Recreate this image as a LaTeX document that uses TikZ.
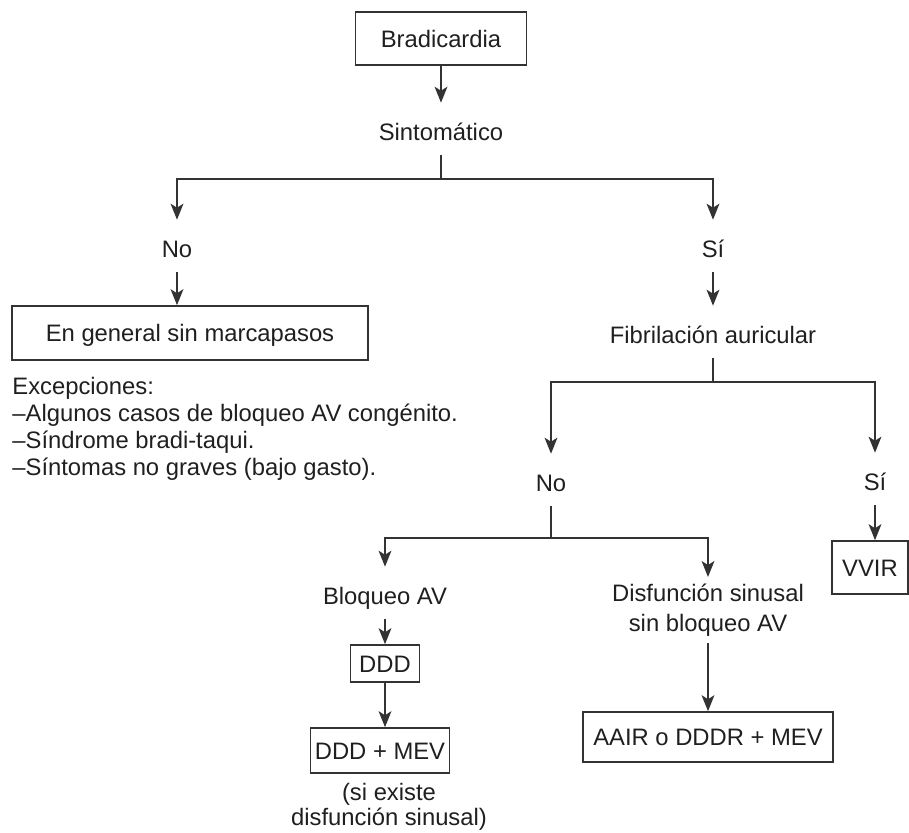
\documentclass[tikz,border=0pt]{standalone}
\usepackage{fontspec}
\setmainfont{Liberation Sans}
\usetikzlibrary{arrows.meta,positioning}
\definecolor{inkgrey}{gray}{0.12}
\definecolor{linegrey}{gray}{0.2}
\newcommand{\flowfont}{\fontsize{11.9}{13.5}\selectfont}

\begin{document}
\begin{tikzpicture}[
    x=0.5pt, y=-0.5pt,
    every node/.style={font=\flowfont, text=inkgrey},
    box/.style={rectangle, draw=linegrey, line width=0.8pt, inner sep=0pt,
        text height=8.6pt, text depth=0pt},
    lbl/.style={inner sep=0pt, text height=18.7pt, text depth=7.2pt},
    link/.style={draw=linegrey, line width=0.8pt},
    >={Stealth[length=8pt, width=6.4pt, inset=2pt]}
]
\useasboundingbox (0,0) rectangle (909,832);

% first question
\node[box, minimum width=85.5pt, minimum height=26.5pt] (brad) at (441,38.5) {Bradicardia};
\node[lbl] (sint) at (441,129) {Sintomático};
\coordinate (j1) at (441,179);
\node[lbl] (no1) at (177,246) {No};
\node[lbl] (si1) at (713,246) {Sí};

% no symptoms
\node[box, minimum width=178pt, minimum height=27pt] (gen) at (190,333) {En general sin marcapasos};
\node[anchor=north west, inner sep=0pt, align=left] (exc) at (12,376.5)
    {Excepciones:\\–Algunos casos de bloqueo AV congénito.\\–Síndrome bradi-taqui.\\–Síntomas no graves (bajo gasto).};

% symptoms: atrial fibrillation?
\node[lbl] (fib) at (713,332) {Fibrilación auricular};
\coordinate (j2) at (713,382);
\node[lbl] (no2) at (551,480) {No};
\node[lbl] (si2) at (875,479) {Sí};
\node[box, minimum width=38pt, minimum height=26.5pt] (vvir) at (870,567.5) {VVIR};

% no fibrillation
\coordinate (j3) at (551,538);
\node[lbl] (bloq) at (385,593) {Bloqueo AV};
\node[anchor=north, inner sep=0pt, outer ysep=3.5pt, align=center] (disf) at (708,577)
    {Disfunción sinusal\\[1.5pt]sin bloqueo AV};
\node[box, minimum width=34.5pt, minimum height=18.5pt] (ddd) at (385,663.5) {DDD};
\node[box, minimum width=69.5pt, minimum height=22.5pt] (dddmev) at (380,750.5) {DDD + MEV};
\node[anchor=north, inner sep=0pt, align=center, font=\fontsize{11.9}{12.5}\selectfont] (nota) at (389,783)
    {(si existe\\disfunción sinusal)};
\node[box, minimum width=125pt, minimum height=25pt] (aair) at (708,737) {AAIR o DDDR + MEV};

% connectors
\draw[link, ->] (brad) -- (sint);
\draw[link] (sint) -- (j1);
\draw[link, ->] (j1) -| (no1);
\draw[link, ->] (j1) -| (si1);
\draw[link, ->] (no1) -- (no1 |- gen.north);
\draw[link, ->] (si1) -- (fib);
\draw[link] (fib) -- (j2);
\draw[link, ->] (j2) -| (no2);
\draw[link, ->] (j2) -| (si2);
\draw[link, ->] (si2) -- (si2 |- vvir.north);
\draw[link] (no2) -- (j3);
\draw[link, ->] (j3) -| (bloq);
\draw[link, ->] (j3) -| (disf);
\draw[link, ->] (bloq) -- (ddd);
\draw[link, ->] (ddd) -- (ddd |- dddmev.north);
\draw[link, ->] (disf) -- (disf |- aair.north);
\end{tikzpicture}
\end{document}
